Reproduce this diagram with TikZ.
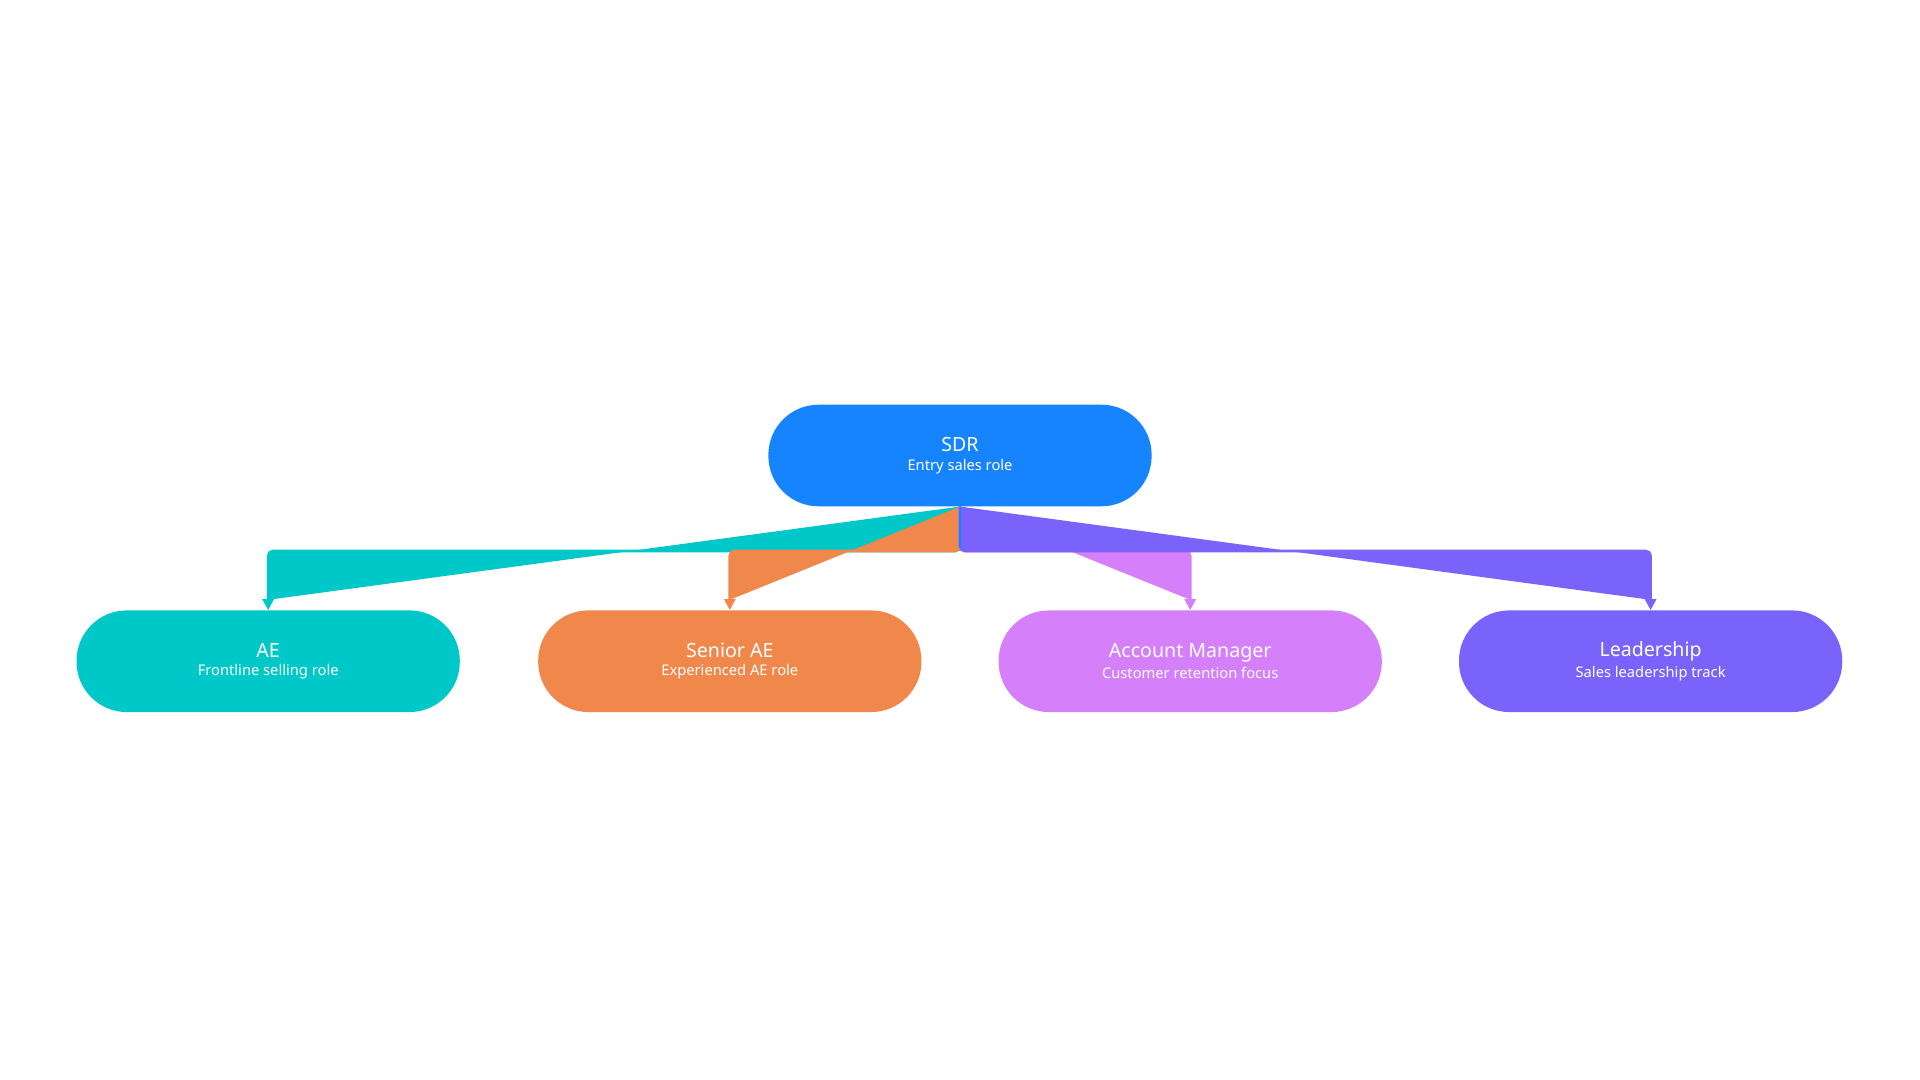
\documentclass[tikz,border=0pt]{standalone}
\usepackage{fontspec}
\setmainfont{Noto Sans}
\usetikzlibrary{arrows.meta}
\definecolor{cSDR}{HTML}{1784FF}
\definecolor{cAE}{HTML}{00C8C8}
\definecolor{cSAE}{HTML}{F0884C}
\definecolor{cAM}{HTML}{D580FA}
\definecolor{cL}{HTML}{7A63FB}
\begin{document}
\begin{tikzpicture}[x=1pt,y=-1pt,
  box/.style={rounded corners=41pt,minimum width=313pt,minimum height=83pt,text=white,align=center,inner sep=0pt},
  conn/.style={line width=2.2pt,rounded corners=4pt,-{Triangle[length=9pt,width=9pt]}}]
\useasboundingbox (0,0) rectangle (1568,882);
\node[box,fill=cSDR] (sdr) at (784,372) {{\fontsize{16}{19}\selectfont\bfseries SDR}\\[3pt]{\fontsize{12}{14}\selectfont Entry sales role}};
\node[box,fill=cAE] (ae) at (219,540) {{\fontsize{16}{19}\selectfont\bfseries AE}\\[3pt]{\fontsize{12}{14}\selectfont Frontline selling role}};
\node[box,fill=cSAE] (sae) at (596,540) {{\fontsize{16}{19}\selectfont\bfseries Senior AE}\\[3pt]{\fontsize{12}{14}\selectfont Experienced AE role}};
\node[box,fill=cAM] (am) at (972,540) {{\fontsize{16}{19}\selectfont\bfseries Account Manager}\\[3pt]{\fontsize{12}{14}\selectfont Customer retention focus}};
\node[box,fill=cL] (ld) at (1348,540) {{\fontsize{16}{19}\selectfont\bfseries Leadership}\\[3pt]{\fontsize{12}{14}\selectfont Sales leadership track}};
\draw[conn,draw=cAE,fill=cAE] (sdr.south) |- (219,450) -- (ae.north);
\draw[conn,draw=cSAE,fill=cSAE] (sdr.south) |- (596,450) -- (sae.north);
\draw[conn,draw=cAM,fill=cAM] (sdr.south) |- (972,450) -- (am.north);
\draw[conn,draw=cL,fill=cL] (sdr.south) |- (1348,450) -- (ld.north);
\draw[line width=2.2pt,cSDR] (sdr.south) -- ++(0,34);
\end{tikzpicture}
\end{document}
